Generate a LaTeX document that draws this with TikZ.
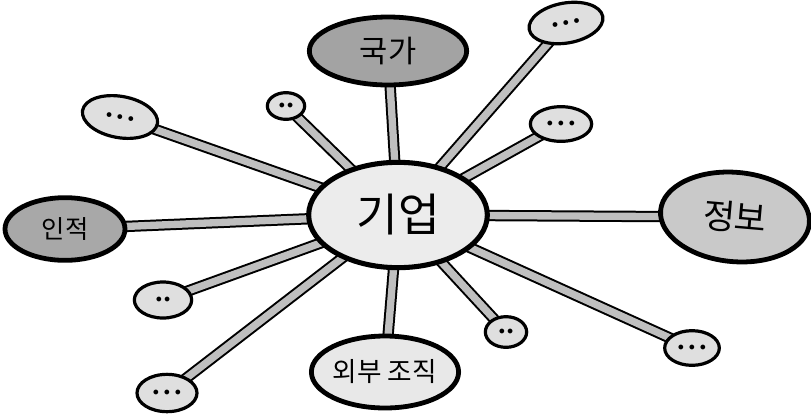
\documentclass[tikz,border=0pt]{standalone}
\usepackage{fontspec}
\newfontfamily\kfont{Noto Sans CJK KR}
\usetikzlibrary{shapes.geometric, backgrounds, positioning}

\begin{document}
\begin{tikzpicture}[
		x=0.75pt, y=-0.75pt,
		% Estilos de los globos del mapa
		hub/.style = {draw, ellipse, line width=3.8pt, fill=gray!15, inner sep=0pt, font=\kfont\fontsize{34}{38}\selectfont},
		topic/.style = {draw, ellipse, line width=3.6pt, inner sep=0pt, font=\kfont\fontsize{23}{26}\selectfont},
		leaf/.style = {draw, ellipse, line width=2.4pt, fill=gray!25, inner sep=0pt, font=\small},
		spoke/.style = {line width=1.5pt, double=gray!50, double distance=5.5pt}
		]
		\useasboundingbox (0,0) rectangle (811,415);
		
		% --- NODO CENTRAL ---
		\node [hub, minimum width=134pt, minimum height=79pt] (empresa) at (398,215) {기업};
		
		% --- TEMAS PRINCIPALES ---
		\node [topic, fill=gray!72, minimum width=118pt, minimum height=51pt] (estado) at (388,51) {국가};
		\node [topic, fill=gray!68, minimum width=90pt, minimum height=47pt, font=\kfont\fontsize{19}{22}\selectfont] (personal) at (65,229) {인적};
		\node [topic, fill=gray!42, minimum width=112pt, minimum height=67pt, rotate=-5, font=\kfont\fontsize{26}{30}\selectfont] (info) at (735,217) {정보};
		\node [topic, fill=gray!18, minimum width=101pt, minimum height=54pt, font=\kfont\fontsize{20}{24}\selectfont] (externo) at (385,372) {외부 조직};
		
		% --- HOJAS SIN TEXTO ---
		\node [leaf, minimum width=56pt, minimum height=30pt, rotate=10] (hojaA) at (566,23) {$\bullet\,\bullet\,\bullet$};
		\node [leaf, minimum width=46pt, minimum height=26pt] (hojaB) at (561,124) {$\bullet\,\bullet\,\bullet$};
		\node [leaf, minimum width=28pt, minimum height=20pt] (hojaC) at (286,106) {$\bullet\,\bullet$};
		\node [leaf, minimum width=57pt, minimum height=31pt, rotate=-10] (hojaD) at (120,117) {$\bullet\,\bullet\,\bullet$};
		\node [leaf, minimum width=43pt, minimum height=27pt] (hojaE) at (163,300) {$\bullet\,\bullet$};
		\node [leaf, minimum width=45pt, minimum height=28pt] (hojaF) at (167,393) {$\bullet\,\bullet\,\bullet$};
		\node [leaf, minimum width=31pt, minimum height=23pt] (hojaG) at (506,332) {$\bullet\,\bullet$};
		\node [leaf, minimum width=41pt, minimum height=26pt] (hojaH) at (692,348) {$\bullet\,\bullet\,\bullet$};
		
		% --- RAYOS DESDE EL CENTRO ---
		\begin{scope}[on background layer]
			\foreach \n in {estado, personal, info, externo, hojaA, hojaB, hojaC, hojaD, hojaE, hojaF, hojaG, hojaH}
				\draw [spoke] (empresa.center) -- (\n.center);
		\end{scope}
		
	\end{tikzpicture}
\end{document}
